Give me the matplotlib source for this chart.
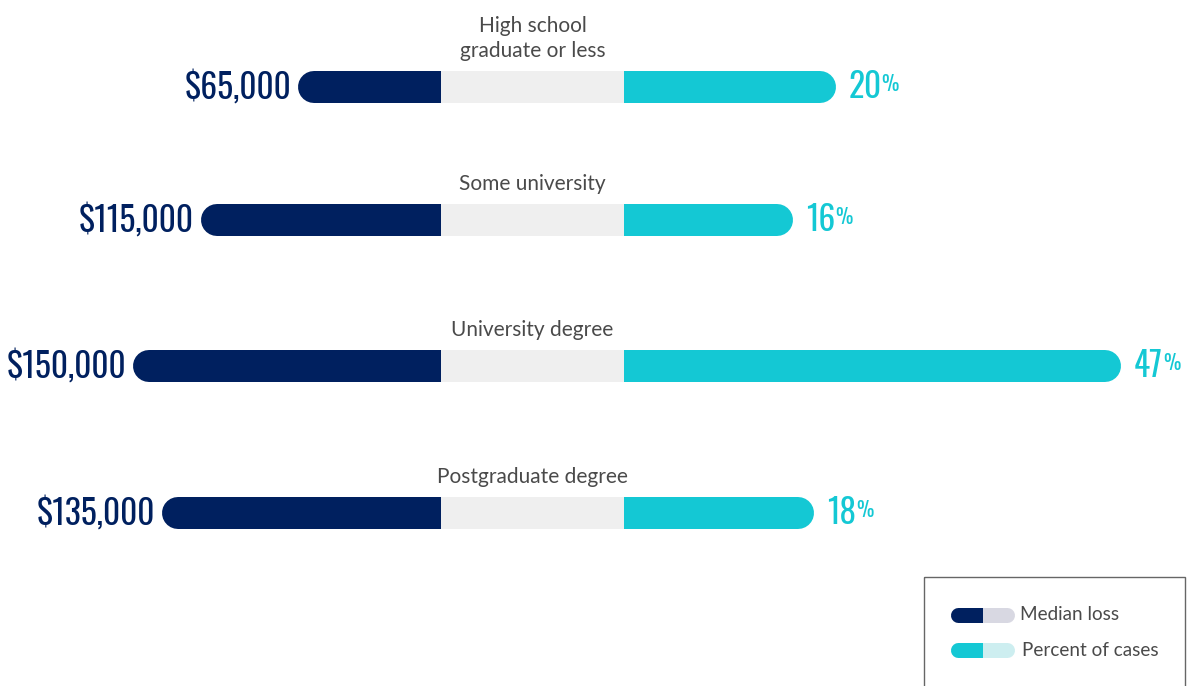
import matplotlib
matplotlib.use("Agg")
import matplotlib.pyplot as plt
from matplotlib import font_manager
from matplotlib.patches import Rectangle
from matplotlib.transforms import ScaledTranslation

# data
categories = ["High school\ngraduate or less", "Some university",
              "University degree", "Postgraduate degree"]
median_loss = [65000, 115000, 150000, 135000]
pct_cases = [20, 16, 47, 18]
legend_labels = ["Median loss", "Percent of cases"]

# colours
navy = "#00205f"
cyan = "#14c8d4"
mid_gray = "#efefef"
text_gray = "#4a4a4a"

# layout in pixels (figure is 1194 x 686 at 100 dpi)
W, H = 1194, 686
row_px = [87, 220, 366, 513]
mid_left, mid_right = 441, 624
bar_px = 32

names = {f.name for f in font_manager.fontManager.ttflist}
cond_family = next((n for n in ["Oswald", "Roboto Condensed", "Liberation Sans Narrow"]
                    if n in names), "DejaVu Sans")
label_font = next((n for n in ["Lato", "Open Sans"] if n in names), "DejaVu Sans")
big = 24 if cond_family != "DejaVu Sans" else 20
small = 14 if cond_family != "DejaVu Sans" else 12

fig = plt.figure(figsize=(W / 100, H / 100), dpi=100)
lw = bar_px * 72 / 100

# left side: median loss, grows to the left
ax_l = fig.add_axes([0, 0, mid_left / W, 1])
ax_l.set_xlim(226500, 0)
ax_l.set_ylim(H, 0)
ax_l.axis("off")
for v, y in zip(median_loss, row_px):
    ax_l.plot([0, v], [y, y], lw=lw, color=navy, solid_capstyle="round")
    ax_l.annotate(f"${v:,.0f}", xy=(v, y), xytext=(-23, 0),
                  textcoords="offset pixels", ha="right", va="center",
                  fontsize=big, color=navy, family=cond_family, weight="light")

# right side: percent of cases
ax_r = fig.add_axes([mid_right / W, 0, (W - mid_right) / W, 1])
ax_r.set_xlim(0, 53.9)
ax_r.set_ylim(H, 0)
ax_r.axis("off")
shift = ax_r.transData + ScaledTranslation(-bar_px / 200, 0, fig.dpi_scale_trans)
for p, y in zip(pct_cases, row_px):
    ax_r.plot([0, p], [y, y], lw=lw, color=cyan, solid_capstyle="round",
              transform=shift)
    t = ax_r.annotate(f"{p}", xy=(p, y), xytext=(13, 0),
                      textcoords="offset pixels", ha="left", va="center",
                      fontsize=big, color=cyan, family=cond_family, weight="light")
    ax_r.annotate("%", xy=(1, 1), xycoords=t, xytext=(0, -4),
                  textcoords="offset pixels", ha="left", va="top",
                  fontsize=small, color=cyan, family=cond_family, weight="light")

# middle gray band + category labels
ax_m = fig.add_axes([mid_left / W, 0, (mid_right - mid_left) / W, 1])
ax_m.set_xlim(0, 1)
ax_m.set_ylim(H, 0)
ax_m.axis("off")
ax_m.barh(row_px, [1] * len(row_px), height=bar_px, color=mid_gray)
for c, y in zip(categories, row_px):
    ax_m.annotate(c, xy=(0.5, y), xytext=(0, 26), textcoords="offset pixels",
                  ha="center", va="bottom", fontsize=15, color=text_gray,
                  family=label_font, linespacing=1.32, annotation_clip=False)

# legend box (drawn by hand, it is cut off at the bottom)
ax_g = fig.add_axes([0, 0, 1, 1])
ax_g.set_xlim(0, W)
ax_g.set_ylim(H, 0)
ax_g.axis("off")
ax_g.add_patch(Rectangle((924, 577), 261, 140, fill=False, ec="#666666", lw=1))
pill_lw = 15 * 72 / 100
for (y, dark, light, lab, tx) in [(615, navy, "#d8d8e2", legend_labels[0], 1020),
                                  (650, cyan, "#cdeef0", legend_labels[1], 1022)]:
    ax_g.plot([957.5, 1006.5], [y, y], lw=pill_lw, color=light,
              solid_capstyle="round")
    ln, = ax_g.plot([957.5, 1006.5], [y, y], lw=pill_lw, color=dark,
                    solid_capstyle="round")
    ln.set_clip_path(Rectangle((940, y - 20), 43, 40, transform=ax_g.transData))
    ax_g.text(tx, y, lab, ha="left", va="center", fontsize=13.6,
              color=text_gray, family=label_font)

fig.savefig("out.png", dpi=100)
